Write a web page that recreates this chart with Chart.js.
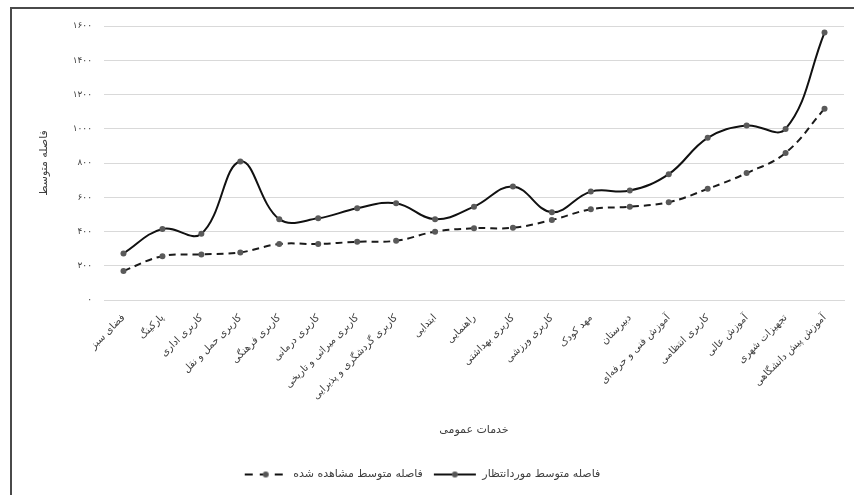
<!DOCTYPE html>
<html>
<head>
<meta charset="utf-8">
<script src="https://cdn.jsdelivr.net/npm/chart.js@4"></script>
<style>
  html, body { margin: 0; padding: 0; background: #fff; }
  #wrap { position: absolute; left: 0; top: 0; width: 854px; height: 495px; }
  #frame { position: absolute; left: 10px; top: 7px; width: 860px; height: 500px;
           border-left: 2px solid #4a4a4a; border-top: 2px solid #4a4a4a; pointer-events: none; }
</style>
</head>
<body>
<div id="wrap"><canvas id="c"></canvas></div>
<div id="frame"></div>
<script>
const categories = [
  "فضای سبز", "پارکینگ", "کاربری اداری", "کاربری حمل و نقل", "کاربری فرهنگی",
  "کاربری درمانی", "کاربری میراثی و تاریخی", "کاربری گردشگری و پذیرایی", "ابتدایی",
  "راهنمایی", "کاربری بهداشتی", "کاربری ورزشی", "مهد کودک", "دبیرستان",
  "آموزش فنی و حرفه‌ای", "کاربری انتظامی", "آموزش عالی", "تجهیزات شهری", "آموزش پیش دانشگاهی"
];
const observed = [170, 256, 266, 278, 327, 327, 340, 346, 399, 419, 422, 467, 530, 545, 571, 649, 741, 859, 1117];
const expected = [272, 415, 387, 809, 472, 477, 536, 565, 472, 545, 663, 513, 633, 639, 735, 947, 1019, 999, 1562];
const yTicks = [0, 200, 400, 600, 800, 1000, 1200, 1400, 1600];

const FONT = "'DejaVu Sans', sans-serif";
const TEXT = "#404040";

const faDigits = (n) => String(n).replace(/\d/g, (d) => "۰۱۲۳۴۵۶۷۸۹"[d]);

// legend symbol: line with a dot in the middle
function legendIcon(dashed) {
  const cv = document.createElement("canvas");
  cv.width = 44; cv.height = 10;
  const g = cv.getContext("2d");
  g.strokeStyle = "#111";
  g.lineWidth = 2;
  if (dashed) g.setLineDash([8, 7]);
  g.beginPath(); g.moveTo(1, 5); g.lineTo(43, 5); g.stroke();
  g.fillStyle = "#555";
  g.beginPath(); g.arc(22, 5, 3, 0, Math.PI * 2); g.fill();
  return cv;
}

new Chart(document.getElementById("c"), {
  type: "line",
  data: {
    labels: categories,
    datasets: [
      {
        label: "فاصله متوسط مشاهده شده",
        data: observed,
        borderColor: "#1a1a1a",
        borderWidth: 2,
        borderDash: [7, 5],
        tension: 0.4,
        pointRadius: 3,
        pointBackgroundColor: "#5a5a5a",
        pointBorderColor: "#5a5a5a",
        pointBorderWidth: 0,
      },
      {
        label: "فاصله متوسط موردانتظار",
        data: expected,
        borderColor: "#111",
        borderWidth: 2,
        tension: 0.4,
        pointRadius: 3,
        pointBackgroundColor: "#5a5a5a",
        pointBorderColor: "#5a5a5a",
        pointBorderWidth: 0,
      },
    ],
  },
  options: {
    responsive: true,
    maintainAspectRatio: false,
    animation: false,
    layout: { padding: { top: 26, right: 10, left: 0, bottom: 5 } },
    plugins: {
      tooltip: { enabled: false },
      legend: {
        position: "bottom",
        labels: {
          color: TEXT,
          font: { family: FONT, size: 11 },
          padding: 10,
          usePointStyle: true,
          pointStyleWidth: 44,
          generateLabels: (chart) =>
            chart.data.datasets.map((ds, i) => ({
              text: ds.label,
              pointStyle: legendIcon(i === 0),
              datasetIndex: i,
              fontColor: TEXT,
              lineWidth: 0,
            })),
        },
      },
    },
    scales: {
      x: {
        offset: true,
        grid: { display: false },
        border: { color: "#d9d9d9" },
        ticks: {
          color: TEXT,
          font: { family: FONT, size: 10 },
          minRotation: 45,
          maxRotation: 45,
          autoSkip: false,
          padding: 4,
        },
        title: {
          display: true,
          text: "خدمات عمومی",
          color: TEXT,
          font: { family: FONT, size: 11 },
          padding: { top: 4, bottom: 22 },
        },
        afterFit: (s) => { s.height = 159; },
      },
      y: {
        min: 0,
        max: 1600,
        afterBuildTicks: (s) => { s.ticks = yTicks.map((v) => ({ value: v })); },
        grid: { color: "#d9d9d9", drawTicks: false },
        border: { display: false },
        ticks: {
          color: TEXT,
          font: { family: FONT, size: 9 },
          padding: 12,
          callback: (v) => faDigits(v),
        },
        title: {
          display: true,
          text: "فاصله متوسط",
          color: TEXT,
          font: { family: FONT, size: 11 },
          padding: { top: 38, bottom: 0 },
        },
        afterFit: (s) => { s.width = 104; },
      },
    },
  },
});
</script>
</body>
</html>
